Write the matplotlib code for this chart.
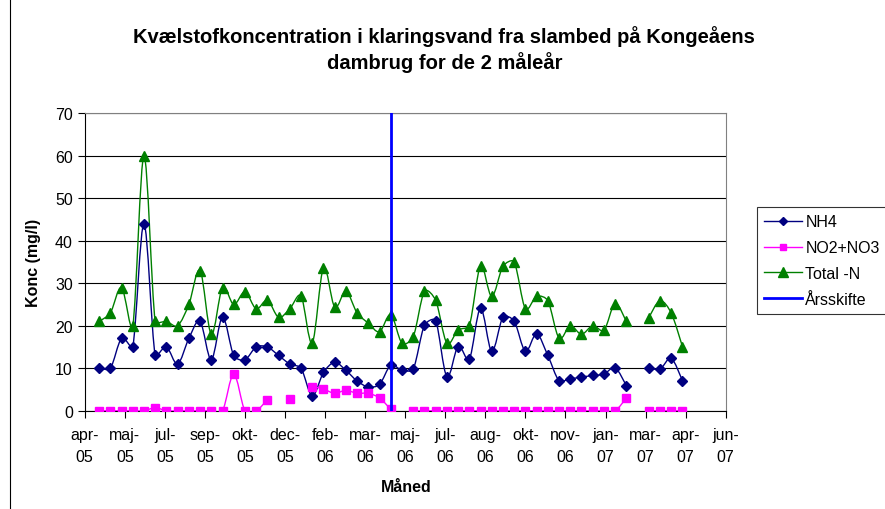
import numpy as np
import matplotlib
matplotlib.use("Agg")
import matplotlib.pyplot as plt
import matplotlib.dates as mdates
from matplotlib.path import Path
from matplotlib.patches import PathPatch, Rectangle
from matplotlib.lines import Line2D

plt.rcParams['font.family'] = ['Liberation Sans', 'DejaVu Sans']

# sample dates (every second week), one missed sampling round in Feb 2007
dates = np.array([
    '2005-04-26', '2005-05-10', '2005-05-24', '2005-06-07', '2005-06-21',
    '2005-07-05', '2005-07-19', '2005-08-02', '2005-08-16', '2005-08-30',
    '2005-09-13', '2005-09-27', '2005-10-11', '2005-10-25', '2005-11-08',
    '2005-11-22', '2005-12-06', '2005-12-20', '2006-01-03', '2006-01-17',
    '2006-01-31', '2006-02-14', '2006-02-28', '2006-03-14', '2006-03-28',
    '2006-04-11', '2006-04-25', '2006-05-09', '2006-05-23', '2006-06-06',
    '2006-06-20', '2006-07-04', '2006-07-18', '2006-08-01', '2006-08-15',
    '2006-08-29', '2006-09-12', '2006-09-26', '2006-10-10', '2006-10-24',
    '2006-11-07', '2006-11-21', '2006-12-05', '2006-12-19', '2007-01-02',
    '2007-01-16', '2007-01-30', '2007-02-13', '2007-02-27', '2007-03-13',
    '2007-03-27', '2007-04-10', '2007-04-24'], dtype='datetime64[D]')

nan = np.nan
nh4 = [10.0, 10.0, 17.0, 15.0, 44.0, 13.0, 15.0, 11.0, 17.0, 21.0,
       12.0, 22.0, 13.0, 12.0, 15.0, 15.0, 13.0, 11.0, 10.0, 3.5,
       9.0, 11.4, 9.5, 7.0, 5.6, 6.2, 10.7, 9.5, 9.8, 20.1,
       21.2, 8.0, 15.1, 12.1, 24.1, 14.0, 22.0, 21.1, 14.0, 18.1,
       13.0, 7.1, 7.5, 7.9, 8.3, 8.6, 10.1, 5.9, nan, 10.1,
       9.8, 12.3, 7.1]
no2_no3 = [0, 0, 0, 0, 0, 0.7, 0, 0, 0, 0,
           0, 0, 8.6, 0, 0, 2.6, nan, 2.8, nan, 5.7,
           5.1, 4.1, 4.8, 4.1, 4.1, 3.0, 0.3, nan, 0, 0,
           0, 0, 0, 0, 0, 0, 0, 0, 0, 0,
           0, 0, 0, 0, 0, 0, 0, 3.0, nan, 0,
           0, 0, 0]
total_n = [21.0, 23.0, 29.0, 20.0, 60.0, 21.0, 21.0, 20.0, 25.0, 33.0,
           18.0, 29.0, 25.0, 28.0, 24.0, 26.0, 22.0, 24.0, 27.0, 16.0,
           33.6, 24.4, 28.1, 23.0, 20.6, 18.6, 22.6, 15.9, 17.4, 28.1,
           26.0, 15.9, 19.0, 20.0, 34.0, 26.9, 34.0, 35.0, 24.0, 26.9,
           25.9, 17.1, 20.0, 18.0, 20.0, 18.9, 25.2, 21.0, nan, 21.9,
           25.9, 23.0, 15.1]

aarsskifte_x = np.array(['2006-04-25', '2006-04-25'], dtype='datetime64[D]')
aarsskifte_y = [0, 70]

x_labels = ['apr-\n05', 'maj-\n05', 'jul-\n05', 'sep-\n05', 'okt-\n05', 'dec-\n05',
            'feb-\n06', 'mar-\n06', 'maj-\n06', 'jul-\n06', 'aug-\n06', 'okt-\n06',
            'nov-\n06', 'jan-\n07', 'mar-\n07', 'apr-\n07', 'jun-\n07']
x_start = np.datetime64('2005-04-08')
x_step_days = 50


def smooth_path(x, y, sx, sy):
    # Excel-like smoothed line: cubic Bezier through the points, broken at gaps.
    # sx, sy convert data units to pixels so the tangents are judged on screen.
    x = np.asarray(x, float)
    y = np.asarray(y, float)
    verts, codes = [], []
    ok = ~np.isnan(y)
    i = 0
    while i < len(y):
        if not ok[i]:
            i += 1
            continue
        j = i
        while j < len(y) and ok[j]:
            j += 1
        pts = np.column_stack([x[i:j] * sx, y[i:j] * sy])
        n = len(pts)
        if n > 1:
            tang = [(pts[min(k + 1, n - 1)] - pts[max(k - 1, 0)]) / 6 for k in range(n)]
            verts.append(pts[0]); codes.append(Path.MOVETO)
            for k in range(n - 1):
                seg = np.hypot(*(pts[k + 1] - pts[k])) / 3
                t1, t2 = tang[k], tang[k + 1]
                l1, l2 = np.hypot(*t1), np.hypot(*t2)
                if l1 > seg:
                    t1 = t1 * seg / l1
                if l2 > seg:
                    t2 = t2 * seg / l2
                verts += [pts[k] + t1, pts[k + 1] - t2, pts[k + 1]]
                codes += [Path.CURVE4] * 3
        i = j
    verts = np.array(verts) / [sx, sy]
    return Path(verts, codes)


fig = plt.figure(figsize=(8.85, 5.1), dpi=100)
ax = fig.add_axes([0.0957, 0.1927, 0.7243, 0.5832])

ticks = mdates.date2num(x_start + np.arange(len(x_labels)) * x_step_days)
ax.set_xlim(ticks[0], ticks[-1])
ax.set_ylim(0, 70)
sx = 0.7243 * 885 / (ticks[-1] - ticks[0])
sy = 0.5832 * 510 / 70.0

xd = mdates.date2num(dates)
series = [
    (nh4, '#000080', 'D', 5.0, 'NH4'),
    (no2_no3, '#FF00FF', 's', 5.5, 'NO2+NO3'),
    (total_n, '#008000', '^', 7.0, 'Total -N'),
]
handles = []
for vals, col, mk, ms, lab in series:
    ax.add_patch(PathPatch(smooth_path(xd, vals, sx, sy), fill=False, edgecolor=col, lw=1.0, zorder=3))
    ax.plot(xd, vals, linestyle='none', marker=mk, markersize=ms, color=col, zorder=4)
    handles.append(Line2D([], [], color=col, lw=1.0, marker=mk, markersize=ms - 0.5, label=lab))

ax.plot(mdates.date2num(aarsskifte_x), aarsskifte_y, color='#0000FF', lw=2, zorder=5)
handles.append(Line2D([], [], color='#0000FF', lw=2, label='Årsskifte'))

ax.set_xticks(ticks)
ax.set_xticklabels(x_labels, fontsize=11.5, linespacing=1.55)
ax.set_yticks(np.arange(0, 71, 10))
ax.tick_params(axis='y', labelsize=11.5, length=5, width=0.8, direction='out')
ax.tick_params(axis='x', length=5, width=0.8, direction='out', pad=7)

ax.grid(axis='y', color='#000000', lw=0.8)
ax.set_axisbelow(True)
for side in ['top', 'right']:
    ax.spines[side].set_color('#808080')
for side in ['left', 'bottom']:
    ax.spines[side].set_color('#000000')

fig.text(0.502, 0.903, 'Kvælstofkoncentration i klaringsvand fra slambed på Kongeåens\ndambrug for de 2 måleår',
         ha='center', va='center', fontsize=14.5, fontweight='bold', linespacing=1.25)
fig.text(0.038, 0.484, 'Konc (mg/l)', rotation=90, ha='center', va='center',
         fontsize=11.5, fontweight='bold')
fig.text(0.459, 0.045, 'Måned', ha='center', va='center', fontsize=11.5, fontweight='bold')

leg = fig.legend(handles=handles, loc='upper left', bbox_to_anchor=(0.855, 0.592),
                 fontsize=11.5, frameon=True, fancybox=False, edgecolor='#000000',
                 handlelength=2.4, borderpad=0.45, labelspacing=0.68, handletextpad=0.2,
                 borderaxespad=0)
leg.get_frame().set_linewidth(0.8)

fig.add_artist(Rectangle((0.011, -0.1), 1.2, 1.2, transform=fig.transFigure,
                         fill=False, edgecolor='#000000', lw=0.8))

fig.savefig('out.png', dpi=100)
